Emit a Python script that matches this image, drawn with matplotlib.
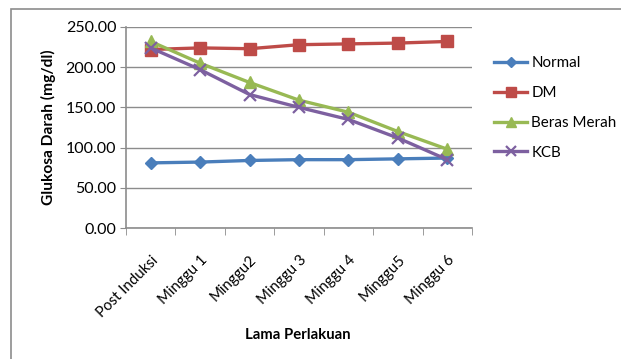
import matplotlib
matplotlib.use("Agg")
import matplotlib.pyplot as plt
from matplotlib.patches import Rectangle

plt.rcParams['font.family'] = ['Lato', 'DejaVu Sans']

# minggu pengamatan
kategori = ["Post Induksi", "Minggu 1", "Minggu2", "Minggu 3", "Minggu 4", "Minggu5", "Minggu 6"]

# kadar glukosa darah (mg/dl) tiap kelompok
normal = [81, 82, 84, 85, 85, 86, 87]
dm = [222, 224, 223, 228, 229, 230, 232]
beras_merah = [232, 205, 181, 159, 144, 120, 98]
kcb = [224, 197, 166, 150, 135, 112, 85]

fig = plt.figure(figsize=(6.21, 3.59), dpi=100)
# bingkai luar chart
fig.patches.append(Rectangle((10.5 / 621, -0.1), 1.2, 1.1 - 9.5 / 359,
                             transform=fig.transFigure, fill=False,
                             edgecolor='#8c8c8c', lw=1.2))

ax = fig.add_axes([126 / 621, 131 / 359, 346 / 621, 201 / 359])

x = range(len(kategori))
ax.plot(x, normal, color='#4A7EBB', lw=2.4, marker='D', ms=6.5, label='Normal')
ax.plot(x, dm, color='#BE4B48', lw=2.4, marker='s', ms=8, label='DM')
ax.plot(x, beras_merah, color='#98B954', lw=2.4, marker='^', ms=8, label='Beras Merah')
ax.plot(x, kcb, color='#7D60A0', lw=2.4, marker='x', ms=8, mew=1.6, label='KCB')

ax.set_ylim(0, 250)
ax.set_xlim(-0.5, len(kategori) - 0.5)
ax.set_yticks(range(0, 251, 50))
ax.set_yticklabels(['%.2f' % v for v in range(0, 251, 50)], fontsize=11.5)
ax.yaxis.grid(True, color='#8c8c8c', lw=1)
ax.set_axisbelow(True)

ax.set_xticks(list(x))
ax.set_xticklabels(kategori, rotation=45, ha='right', rotation_mode='anchor', fontsize=10.8)
ax.tick_params(axis='x', length=0, pad=18)
ax.set_xticks([i - 0.5 for i in range(len(kategori) + 1)], minor=True)
ax.tick_params(axis='x', which='minor', length=5, color='#8c8c8c')
ax.tick_params(axis='y', length=4, color='#8c8c8c', pad=3)
for lbl in ax.get_xticklabels():
    lbl.set_x(lbl.get_position()[0])

for s in ['top', 'right']:
    ax.spines[s].set_visible(False)
for s in ['left', 'bottom']:
    ax.spines[s].set_color('#8c8c8c')
    ax.spines[s].set_linewidth(1.2)

ax.set_ylabel('Glukosa Darah (mg/dl)', fontsize=11.2, fontweight='bold', labelpad=7)
fig.text(298 / 621, 1 - 335 / 359, 'Lama Perlakuan', fontsize=10.7, fontweight='bold',
         ha='center', va='center')

fig.legend(loc='upper left', bbox_to_anchor=(488 / 621, 1 - 50 / 359), frameon=False,
           fontsize=10.9, handlelength=2.2, handletextpad=0.25, labelspacing=1.05,
           borderaxespad=0, markerscale=0.85)

fig.savefig('out.png', dpi=100)
